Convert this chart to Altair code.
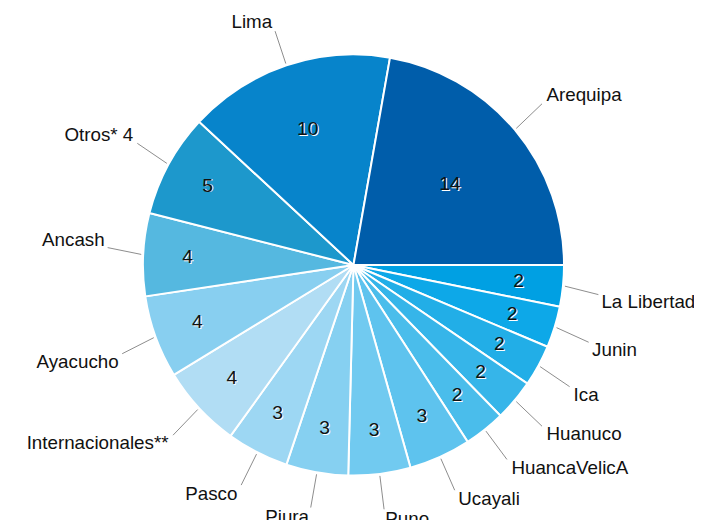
import math
import altair as alt
import pandas as pd

regions = ["La Libertad", "Junin", "Ica", "Huanuco", "HuancaVelicA", "Ucayali",
           "Puno", "Piura", "Pasco", "Internacionales**", "Ayacucho", "Ancash",
           "Otros* 4", "Lima", "Arequipa"]
values = [2, 2, 2, 2, 2, 3, 3, 3, 3, 4, 4, 4, 5, 10, 14]
colors = ["#00A0E3", "#0DA8E8", "#22AEE7", "#36B5E9", "#4ABDEB", "#5EC3EE",
          "#71CAF0", "#86D0F1", "#9DD7F3", "#B1DDF4", "#88CFF0", "#55B8E0",
          "#1D98CC", "#0784CB", "#005DAA"]

df = pd.DataFrame({"region": regions, "value": values, "order": list(range(len(regions)))})

W, H = 694, 514
CX, CY = 349.5, 257
R = 213
FONT = "Liberation Sans"

base = alt.Chart(df).transform_joinaggregate(
    total="sum(value)"
).transform_window(
    cum="sum(value)", sort=[alt.SortField("order")], frame=[None, 0]
).transform_calculate(
    mid="PI/2 + 2*PI*(datum.cum - datum.value/2)/datum.total"
).transform_calculate(
    # best-fit style spacing: push outer labels away from the horizontal axis
    off="(cos(datum.mid) < 0 ? 1 : -1) * 13 * pow(sin(datum.mid), 2)",
    lr=f"{R + 39} + 7 * pow(cos(datum.mid), 2)",
    vr="168 - max(0, datum.value - 5)*4.5",
).transform_calculate(
    lx="%s + datum.lr*sin(datum.mid)" % CX,
    ly="%s - datum.lr*cos(datum.mid) + datum.off" % CY,
    r1x=f"{CX} + {R + 2}*sin(datum.mid)",
    r1y=f"{CY} - {R + 2}*cos(datum.mid)",
    r2x=f"{CX} + {R + 36}*sin(datum.mid)",
    r2y=f"{CY} - {R + 36}*cos(datum.mid) + 0.4*datum.off",
    vx=f"{CX} + datum.vr*sin(datum.mid)",
    vy=f"{CY} - datum.vr*cos(datum.mid)",
    side="sin(datum.mid) >= 0 ? 'r' : 'l'",
)

pie = alt.Chart(df).mark_arc(outerRadius=R, stroke="white", strokeWidth=2).encode(
    theta=alt.Theta("value:Q", stack=True,
                    scale=alt.Scale(range=[math.pi / 2, math.pi / 2 + 2 * math.pi])),
    order=alt.Order("order:Q"),
    color=alt.Color("region:N", scale=alt.Scale(domain=regions, range=colors), legend=None),
    x=alt.value(CX),
    y=alt.value(CY),
)

leaders = base.mark_rule(color="#8C8C8C", strokeWidth=1).encode(
    x=alt.X("r1x:Q", scale=None), y=alt.Y("r1y:Q", scale=None),
    x2="r2x:Q", y2="r2y:Q",
)

labels_r = base.transform_filter("datum.side == 'r'").mark_text(
    align="left", baseline="middle", font=FONT, fontSize=19, color="#111111"
).encode(x=alt.X("lx:Q", scale=None), y=alt.Y("ly:Q", scale=None), text="region:N")

labels_l = base.transform_filter("datum.side == 'l'").mark_text(
    align="right", baseline="middle", font=FONT, fontSize=19, color="#111111"
).encode(x=alt.X("lx:Q", scale=None), y=alt.Y("ly:Q", scale=None), text="region:N")

vshadow = base.mark_text(
    align="center", baseline="middle", font=FONT, fontSize=19.5, color="white", dx=1, dy=1
).encode(x=alt.X("vx:Q", scale=None), y=alt.Y("vy:Q", scale=None), text="value:Q")

vlabels = base.mark_text(
    align="center", baseline="middle", font=FONT, fontSize=19.5, color="#111111"
).encode(x=alt.X("vx:Q", scale=None), y=alt.Y("vy:Q", scale=None), text="value:Q")

chart = alt.layer(pie, leaders, labels_r, labels_l, vshadow, vlabels).properties(
    width=W, height=H, padding=0,
    autosize=alt.AutoSizeParams(type="none"),
).configure_view(strokeWidth=0)

chart.save("out.html", embed_options={"renderer": "svg", "actions": False})
